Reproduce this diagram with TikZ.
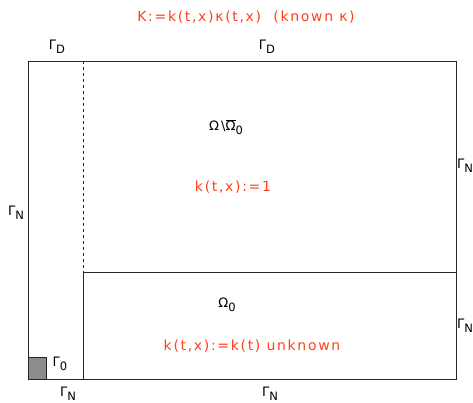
\documentclass[tikz,border=0pt]{standalone}
\usepackage{fontspec}
\setmainfont[LetterSpace=12]{DejaVu Sans}
\definecolor{kred}{RGB}{255,64,26}
\newcommand\lowsub[1]{\raisebox{-0.5ex}{\fontsize{11.5}{12}\selectfont#1}}
\newcommand\barred[1]{$\overline{\hbox{#1}}$}
\begin{document}
\begin{tikzpicture}[
    x=1pt, y=-1pt,
    font=\fontsize{13}{15}\selectfont,
    bnd/.style={font=\fontsize{13}{15}\selectfont},
    lbl/.style={text=kred, font=\fontsize{14}{16}\selectfont},
    wall/.style={draw=black!85, line width=0.8pt}
    ]

\useasboundingbox (0,0) rectangle (473,402);

% corners of the domain
\coordinate (sw) at (28,379);
\coordinate (ne) at (456,61);
\coordinate (dtop) at (83,61);
\coordinate (dmid) at (83,272);
\coordinate (emid) at (456,272);
\coordinate (dbot) at (83,379);

% small patch Gamma_0
\draw[wall, fill=black!45] (28,357) rectangle (46,379);

% outer box and subdomains
\draw[wall] (sw) rectangle (ne);
\draw[wall, dashed, line width=0.6pt] (dtop) -- (dmid);
\draw[wall] (dmid) -- (emid);
\draw[wall] (dmid) -- (dbot);

% boundary labels
\node[bnd] (gd1) at (57,47)  {Γ\lowsub{D}};
\node[bnd] (gd2) at (267,47) {Γ\lowsub{D}};
\node[bnd] (gn1) at (16,213) {Γ\lowsub{N}};
\node[bnd] (gn2) at (465,166) {Γ\lowsub{N}};
\node[bnd] (gn3) at (465,326) {Γ\lowsub{N}};
\node[bnd] (gn4) at (68,394) {Γ\lowsub{N}};
\node[bnd] (gn5) at (270,394) {Γ\lowsub{N}};
\node[bnd] (g0)  at (60,364) {Γ\lowsub{0}};

% region labels
\node (om)  at (226,127) {Ω\,\textbackslash\barred{Ω}\lowsub{0}};
\node (om0) at (227,305) {Ω\lowsub{0}};

% coefficient texts
\node[lbl] (title) at (246,17) {K:=k(t,x)κ(t,x)\ \ (known κ)};
\node[lbl] (kone)  at (233,187) {k(t,x):=1};
\node[lbl] (kunk)  at (252,346) {k(t,x):=k(t) unknown};

\end{tikzpicture}
\end{document}
